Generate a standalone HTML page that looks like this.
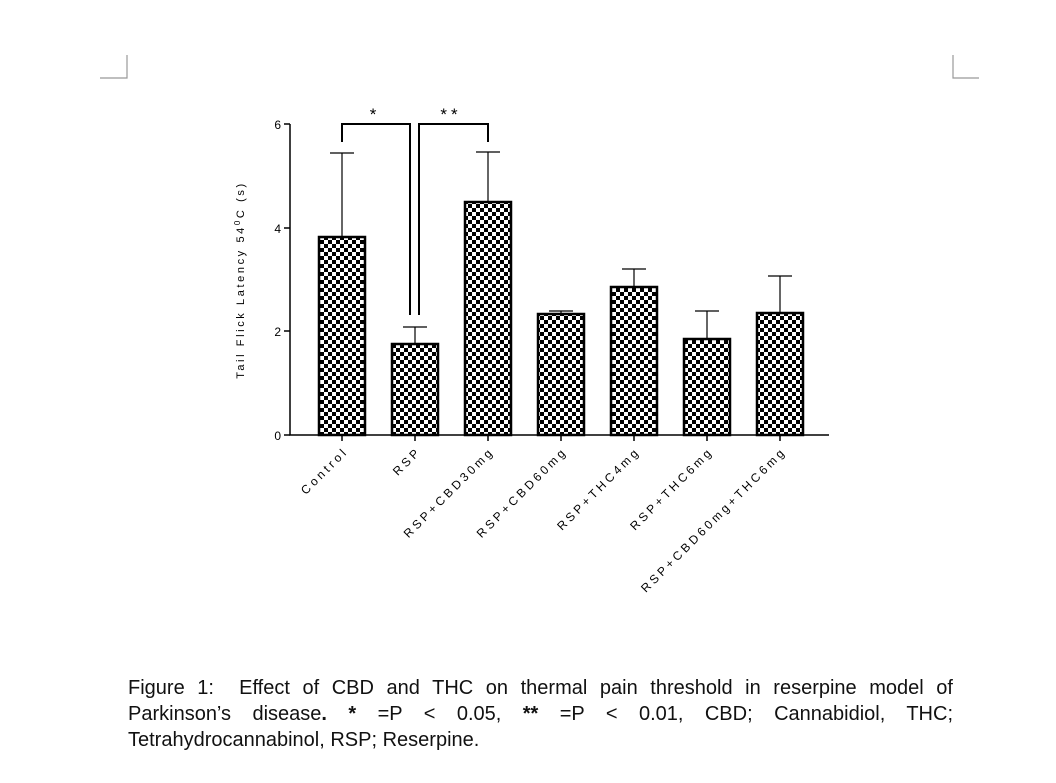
<!DOCTYPE html>
<html><head><meta charset="utf-8"><style>
body{margin:0;background:#fff;width:1056px;height:783px;overflow:hidden;position:relative;font-family:"Liberation Sans",sans-serif}
.cap{position:absolute;left:128px;top:675px;width:825px;font-size:20px;line-height:26px;text-align:justify;color:#111}
</style></head><body>
<svg width="1056" height="783" style="position:absolute;left:0;top:0" font-family="Liberation Sans, sans-serif">
<defs><pattern id="ck" width="8" height="8" patternUnits="userSpaceOnUse"><rect width="8" height="8" fill="#fff"/><rect width="4" height="4" fill="#000"/><rect x="4" y="4" width="4" height="4" fill="#000"/></pattern></defs>
<g stroke="#999" stroke-width="1.2" fill="none">
<path d="M127 55V78H100"/><path d="M953 55V78H979"/></g>
<g stroke="#000" stroke-width="1.5" fill="none">
<path d="M290 124V435H829"/>
<path d="M284 124H290M284 228H290M284 331H290M284 435H290"/>
<path d="M342 435v6M415 435v6M488 435v6M561 435v6M634 435v6M707 435v6M780 435v6"/>
</g>
<g font-size="12" text-anchor="end"><text x="281" y="129">6</text><text x="281" y="233">4</text><text x="281" y="336">2</text><text x="281" y="440">0</text></g>
<text transform="translate(244,280) rotate(-90)" font-size="11" letter-spacing="2.6" text-anchor="middle">Tail Flick Latency 54<tspan dy="-4" font-size="8">0</tspan><tspan dy="4">C (s)</tspan></text>
<g stroke="#000" stroke-width="2.5" fill="url(#ck)">
<rect x="319" y="237" width="46" height="198"/>
<rect x="392" y="344" width="46" height="91"/>
<rect x="465" y="202" width="46" height="233"/>
<rect x="538" y="314" width="46" height="121"/>
<rect x="611" y="287" width="46" height="148"/>
<rect x="684" y="339" width="46" height="96"/>
<rect x="757" y="313" width="46" height="122"/>
</g>
<g stroke="#000" stroke-width="1.2" fill="none">
<path d="M342 237V153M330 153H354"/>
<path d="M415 344V327M403 327H427"/>
<path d="M488 202V152M476 152H500"/>
<path d="M561 314V311M549 311H573"/>
<path d="M634 287V269M622 269H646"/>
<path d="M707 339V311M695 311H719"/>
<path d="M780 313V276M768 276H792"/>
</g>
<g stroke="#000" stroke-width="2" fill="none">
<path d="M342 142V124H410V315"/><path d="M419 315V124H488V142"/></g>
<text x="373" y="120" font-size="17" text-anchor="middle">*</text>
<text x="451" y="120" font-size="17" text-anchor="middle" letter-spacing="4">**</text>
<g font-size="12" letter-spacing="3.2" text-anchor="end">
<text transform="translate(349,452) rotate(-45)">Control</text>
<text transform="translate(422,452) rotate(-45)">RSP</text>
<text transform="translate(495,452) rotate(-45)">RSP+CBD30mg</text>
<text transform="translate(568,452) rotate(-45)">RSP+CBD60mg</text>
<text transform="translate(641,452) rotate(-45)">RSP+THC4mg</text>
<text transform="translate(714,452) rotate(-45)">RSP+THC6mg</text>
<text transform="translate(787,452) rotate(-45)">RSP+CBD60mg+THC6mg</text>
</g>
</svg>
<div class="cap">Figure 1:&nbsp; Effect of CBD and THC on thermal pain threshold in reserpine model of Parkinson’s disease<b>.</b> <b>*</b> =P &lt; 0.05, <b>**</b> =P &lt; 0.01, CBD; Cannabidiol, THC; Tetrahydrocannabinol, RSP; Reserpine.</div>
</body></html>
